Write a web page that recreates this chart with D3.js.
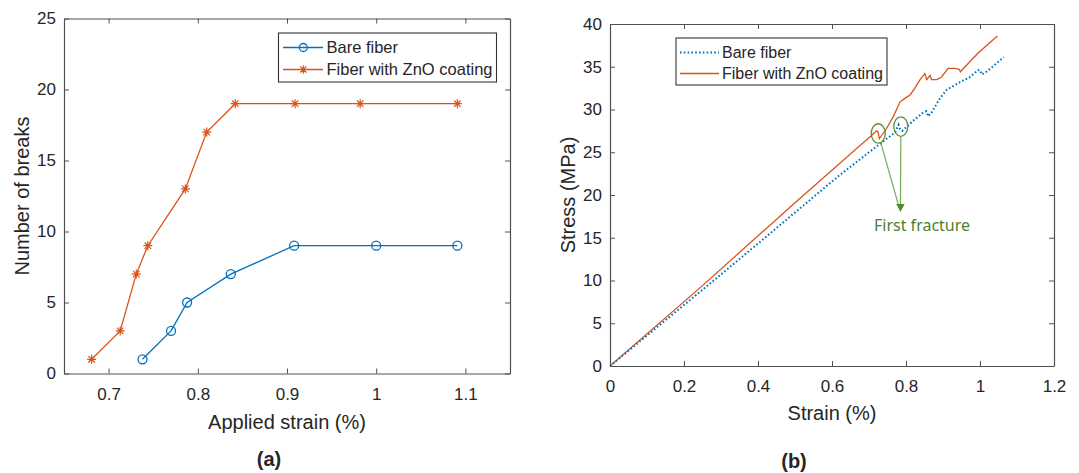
<!DOCTYPE html>
<html><head><meta charset="utf-8">
<script src="https://cdn.jsdelivr.net/npm/d3@7"></script>
<style>
body{margin:0;background:#fff}
svg{display:block}
text{font-family:"Liberation Sans",Arial,Helvetica,sans-serif;fill:#262626}
</style>
</head><body>
<svg id="chart" width="1079" height="473"></svg>
<script>
// ---------- data: panel (a) ----------
const seriesNames = ["Bare fiber", "Fiber with ZnO coating"];
const bareStrainA = [0.738, 0.770, 0.788, 0.837, 0.908, 1.000, 1.091];
const bareBreaksA = [1, 3, 5, 7, 9, 9, 9];
const znoStrainA = [0.681, 0.713, 0.731, 0.744, 0.786, 0.810, 0.842, 0.909, 0.982, 1.091];
const znoBreaksA = [1, 3, 7, 9, 13, 17, 19, 19, 19, 19];
const xTicksA = [0.7, 0.8, 0.9, 1, 1.1];
const yTicksA = [0, 5, 10, 15, 20, 25];

// ---------- data: panel (b) ----------
const bareStrainB = [0, 0.30, 0.62, 0.73, 0.770, 0.780, 0.784, 0.790, 0.800, 0.820, 0.845, 0.855, 0.860, 0.870, 0.890, 0.910, 0.930, 0.950, 0.970, 0.995, 1.000, 1.005, 1.020, 1.064];
const bareStressB = [0, 10.7, 22.3, 26.0, 27.3, 28.2, 27.7, 27.5, 27.9, 28.7, 29.6, 29.8, 29.2, 29.7, 31.2, 32.3, 32.8, 33.3, 33.7, 34.6, 34.6, 34.1, 34.5, 36.1];
const znoStrainB = [0, 0.25, 0.50, 0.721, 0.724, 0.728, 0.745, 0.766, 0.784, 0.797, 0.811, 0.824, 0.838, 0.851, 0.856, 0.865, 0.869, 0.883, 0.896, 0.914, 0.932, 0.944, 0.947, 0.955, 0.995, 1.047];
const znoStressB = [0, 9.4, 19.1, 27.5, 27.4, 26.6, 27.6, 29.2, 30.9, 31.3, 31.7, 32.5, 33.5, 34.2, 33.5, 34.0, 33.5, 33.5, 33.8, 34.8, 34.8, 34.7, 34.4, 34.8, 36.6, 38.6];
const xTicksB = [0, 0.2, 0.4, 0.6, 0.8, 1, 1.2];
const yTicksB = [0, 5, 10, 15, 20, 25, 30, 35, 40];

// annotation (panel b): ellipses around first fractures, arrow target, label
const fractureStrain = [0.725, 0.786];
const fractureStress = [27.2, 28.0];
const arrowStartStrain = [0.732, 0.786];
const arrowStartStress = [26.1, 26.9];
const arrowTip = [0.785, 18.0];
const annotationText = "First fracture";
const annotationPos = [0.7135, 15.8];

const axisTitlesA = ["Applied strain (%)", "Number of breaks"];
const axisTitlesB = ["Strain (%)", "Stress (MPa)"];
const panelLabels = ["(a)", "(b)"];

// ---------- styling ----------
const BLUE = "#0072BD", ORANGE = "#D95319";
const AXC = "#505050";
const svg = d3.select("#chart");

function drawAxes(g, x, y, xt, yt, fmtX) {
  const ax = (gen, tr, lab) => {
    const a = g.append("g").attr("transform", tr).call(gen);
    a.select(".domain").attr("stroke", AXC).attr("stroke-width", 1.2);
    a.selectAll(".tick line").attr("stroke", AXC).attr("stroke-width", 1);
    a.selectAll(".tick text").attr("fill", "#262626").style("font-size", "17px")
      .style("font-family", '"Liberation Sans",Arial,sans-serif');
    if (!lab) a.selectAll(".tick text").remove();
    return a;
  };
  const [x0, x1] = x.range(), [y0, y1] = y.range();
  ax(d3.axisBottom(x).tickValues(xt).tickFormat(fmtX).tickSizeInner(-5).tickSizeOuter(0).tickPadding(14), `translate(0,${y0})`, true);
  ax(d3.axisTop(x).tickValues(xt).tickSizeInner(-5).tickSizeOuter(0), `translate(0,${y1})`, false);
  ax(d3.axisLeft(y).tickValues(yt).tickFormat(d3.format("d")).tickSizeInner(-5).tickSizeOuter(0).tickPadding(8), `translate(${x0},0)`, true);
  ax(d3.axisRight(y).tickValues(yt).tickSizeInner(-5).tickSizeOuter(0), `translate(${x1},0)`, false);
}

function asterisk(g, cx, cy, r, color) {
  const d = r * 0.72;
  const p = `M${cx - r},${cy}H${cx + r}M${cx},${cy - r}V${cy + r}M${cx - d},${cy - d}L${cx + d},${cy + d}M${cx - d},${cy + d}L${cx + d},${cy - d}`;
  g.append("path").attr("d", p).attr("stroke", color).attr("stroke-width", 1.2).attr("fill", "none");
}

const fmtNum = d => String(+d.toFixed(1));

// ================= Panel (a) =================
{
  const x = d3.scaleLinear().domain([0.65, 1.15]).range([64, 510]);
  const y = d3.scaleLinear().domain([0, 25]).range([373.5, 18.5]);
  const g = svg.append("g");
  drawAxes(g, x, y, xTicksA, yTicksA, fmtNum);

  const line = d3.line().x(d => x(d[0])).y(d => y(d[1]));
  const bare = d3.zip(bareStrainA, bareBreaksA);
  const zno = d3.zip(znoStrainA, znoBreaksA);
  g.append("path").datum(bare).attr("d", line).attr("fill", "none").attr("stroke", BLUE).attr("stroke-width", 1.3);
  g.append("path").datum(zno).attr("d", line).attr("fill", "none").attr("stroke", ORANGE).attr("stroke-width", 1.3);
  g.selectAll("circle.m").data(bare).join("circle").attr("class", "m")
    .attr("cx", d => x(d[0])).attr("cy", d => y(d[1])).attr("r", 4.5)
    .attr("fill", "none").attr("stroke", BLUE).attr("stroke-width", 1.3);
  zno.forEach(d => asterisk(g, x(d[0]), y(d[1]), 4.5, ORANGE));

  // legend
  const lg = g.append("g");
  lg.append("rect").attr("x", 278.5).attr("y", 33).attr("width", 218).attr("height", 49)
    .attr("fill", "#fff").attr("stroke", "#333").attr("stroke-width", 1.1);
  const rows = [47.5, 69.5];
  [BLUE, ORANGE].forEach((c, i) => {
    lg.append("line").attr("x1", 283).attr("x2", 323).attr("y1", rows[i]).attr("y2", rows[i]).attr("stroke", c).attr("stroke-width", 1.3);
    if (i === 0) lg.append("circle").attr("cx", 303.3).attr("cy", rows[i]).attr("r", 4).attr("fill", "none").attr("stroke", c).attr("stroke-width", 1.3);
    else asterisk(lg, 303.3, rows[i], 4.2, c);
    lg.append("text").attr("x", 326.5).attr("y", rows[i]).attr("dy", "0.36em").style("font-size", "16.5px").text(seriesNames[i]);
  });

  g.append("text").attr("x", (x.range()[0] + x.range()[1]) / 2).attr("y", 422).attr("dy", "0.36em")
    .attr("text-anchor", "middle").style("font-size", "20px").text(axisTitlesA[0]);
  g.append("text").attr("transform", `translate(22,${(y.range()[0] + y.range()[1]) / 2}) rotate(-90)`).attr("dy", "0.36em")
    .attr("text-anchor", "middle").style("font-size", "20px").text(axisTitlesA[1]);
  g.append("text").attr("x", 269).attr("y", 459).attr("dy", "0.36em").attr("text-anchor", "middle")
    .style("font-size", "20px").style("font-weight", "bold").text(panelLabels[0]);
}

// ================= Panel (b) =================
{
  const x = d3.scaleLinear().domain([0, 1.2]).range([610, 1054]);
  const y = d3.scaleLinear().domain([0, 40]).range([366, 24]);
  const g = svg.append("g");
  drawAxes(g, x, y, xTicksB, yTicksB, fmtNum);

  const line = d3.line().x(d => x(d[0])).y(d => y(d[1]));
  g.append("path").datum(d3.zip(znoStrainB, znoStressB)).attr("d", line).attr("fill", "none")
    .attr("stroke", ORANGE).attr("stroke-width", 1.3);
  g.append("path").datum(d3.zip(bareStrainB, bareStressB)).attr("d", line).attr("fill", "none")
    .attr("stroke", BLUE).attr("stroke-width", 2).attr("stroke-dasharray", "1.6,2.2");

  // annotation
  const GREEN_E = "#5a8f3c", GREEN_A = "#78a85a", GREEN_T = "#4f7f2f";
  fractureStrain.forEach((s, i) => {
    g.append("ellipse").attr("cx", x(s)).attr("cy", y(fractureStress[i])).attr("rx", 7).attr("ry", 9.7)
      .attr("fill", "none").attr("stroke", GREEN_E).attr("stroke-width", 1.3);
  });
  const tx = x(arrowTip[0]), ty = y(arrowTip[1]);
  const headH = 8, headW = 4.2;
  arrowStartStrain.forEach((s, i) => {
    const sx = x(s), sy = y(arrowStartStress[i]);
    const ang = Math.atan2(ty - sy, tx - sx);
    g.append("line").attr("x1", sx).attr("y1", sy)
      .attr("x2", tx - Math.cos(ang) * headH).attr("y2", ty - Math.sin(ang) * headH)
      .attr("stroke", GREEN_A).attr("stroke-width", 1.2);
  });
  g.append("path").attr("d", `M${tx},${ty}L${tx - headW},${ty - headH}L${tx + headW},${ty - headH}Z`)
    .attr("fill", "#4f8a2e");
  g.append("text").attr("x", x(annotationPos[0])).attr("y", y(annotationPos[1]))
    .style("font-family", '"Noto Sans","Open Sans",sans-serif').style("font-size", "16px")
    .style("fill", GREEN_T).text(annotationText);

  // legend
  const lg = g.append("g");
  lg.append("rect").attr("x", 676).attr("y", 38).attr("width", 211).attr("height", 47)
    .attr("fill", "#fff").attr("stroke", "#333").attr("stroke-width", 1.1);
  const rows = [52.5, 73.5];
  lg.append("line").attr("x1", 680).attr("x2", 719).attr("y1", rows[0]).attr("y2", rows[0])
    .attr("stroke", BLUE).attr("stroke-width", 2).attr("stroke-dasharray", "1.6,2.2");
  lg.append("line").attr("x1", 680).attr("x2", 719).attr("y1", rows[1]).attr("y2", rows[1])
    .attr("stroke", ORANGE).attr("stroke-width", 1.3);
  seriesNames.forEach((n, i) => lg.append("text").attr("x", 722).attr("y", rows[i]).attr("dy", "0.36em")
    .style("font-size", "16px").text(n));

  g.append("text").attr("x", (x.range()[0] + x.range()[1]) / 2).attr("y", 413).attr("dy", "0.36em")
    .attr("text-anchor", "middle").style("font-size", "20px").text(axisTitlesB[0]);
  g.append("text").attr("transform", `translate(567.5,${(y.range()[0] + y.range()[1]) / 2}) rotate(-90)`).attr("dy", "0.36em")
    .attr("text-anchor", "middle").style("font-size", "20px").text(axisTitlesB[1]);
  g.append("text").attr("x", 794).attr("y", 461).attr("dy", "0.36em").attr("text-anchor", "middle")
    .style("font-size", "20px").style("font-weight", "bold").text(panelLabels[1]);
}
</script>
</body></html>
